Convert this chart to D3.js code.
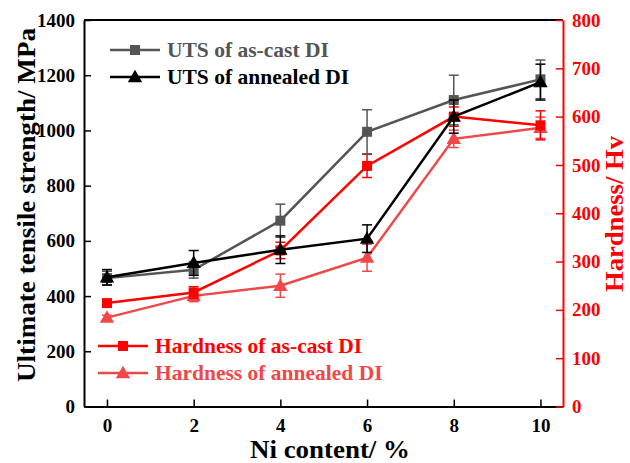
<!DOCTYPE html>
<html>
<head>
<meta charset="utf-8">
<script src="https://cdn.jsdelivr.net/npm/d3@7"></script>
<style>
  html, body { margin: 0; padding: 0; background: #fff; }
  svg { display: block; }
  svg text { font-family: "Liberation Serif", "Times New Roman", serif !important; font-weight: bold; }
</style>
</head>
<body>
<svg id="chart" width="630" height="463"></svg>
<script>
// Ni content (%)
const niContent = [0, 2, 4, 6, 8, 10];

// Ultimate tensile strength (MPa) and standard deviation
const utsCast = [465, 495, 673, 995, 1110, 1185];
const utsCastErr = [25, 30, 60, 80, 90, 70];
const utsAnnealed = [468, 520, 568, 608, 1050, 1175];
const utsAnnealedErr = [28, 45, 50, 50, 60, 65];

// Hardness (Hv) and standard deviation
const hvCast = [214, 236, 323, 498, 600, 582];
const hvCastErr = [6, 12, 17, 24, 20, 30];
const hvAnnealed = [184, 229, 250, 308, 554, 577];
const hvAnnealedErr = [5, 12, 24, 28, 18, 22];

const xTicks = [0, 2, 4, 6, 8, 10];
const utsTicks = [0, 200, 400, 600, 800, 1000, 1200, 1400];
const hvTicks = [0, 100, 200, 300, 400, 500, 600, 700, 800];

const svg = d3.select("#chart");
const m = { left: 84, right: 563, top: 20, bottom: 406.5 };

const x = d3.scaleLinear().domain([-0.53, 10.52]).range([m.left, m.right]);
const yL = d3.scaleLinear().domain([0, 1400]).range([m.bottom, m.top]);
const yR = d3.scaleLinear().domain([0, 800]).range([m.bottom, m.top]);

const RED = "#ff0000";
const LRED = "#f04848";
const GRAY = "#555555";
const FONT = "'Liberation Serif', 'Times New Roman', serif";
const fmt = d3.format("d");

// Frame: top border
svg.append("line")
  .attr("x1", m.left).attr("x2", m.right)
  .attr("y1", m.top).attr("y2", m.top)
  .attr("stroke", "#000").attr("stroke-width", 2);

function styleAxis(g, color) {
  g.attr("font-family", FONT).attr("font-weight", "bold");
  g.select(".domain").attr("stroke", color).attr("stroke-width", 2);
  g.selectAll(".tick line").attr("stroke", color).attr("stroke-width", 1.5);
  g.selectAll(".tick text").attr("font-size", 19).attr("fill", color);
}

// Bottom axis (ticks point inward)
const xAxis = svg.append("g")
  .attr("transform", `translate(0,${m.bottom})`)
  .call(d3.axisBottom(x).tickValues(xTicks).tickFormat(fmt)
    .tickSizeInner(-7).tickSizeOuter(0).tickPadding(12));
styleAxis(xAxis, "#000");

// Left axis
const yAxisL = svg.append("g")
  .attr("transform", `translate(${m.left},0)`)
  .call(d3.axisLeft(yL).tickValues(utsTicks).tickFormat(fmt)
    .tickSizeInner(-7).tickSizeOuter(0).tickPadding(9));
styleAxis(yAxisL, "#000");

// Right axis (red)
const yAxisR = svg.append("g")
  .attr("transform", `translate(${m.right},0)`)
  .call(d3.axisRight(yR).tickValues(hvTicks).tickFormat(fmt)
    .tickSizeInner(-7).tickSizeOuter(0).tickPadding(9));
styleAxis(yAxisR, RED);

// Axis titles
svg.append("text")
  .attr("transform", `translate(35,205) rotate(-90)`)
  .attr("text-anchor", "middle").attr("font-size", 24.5).attr("fill", "#000")
  .attr("textLength", 354).attr("lengthAdjust", "spacingAndGlyphs")
  .text("Ultimate tensile strength/ MPa");

svg.append("text")
  .attr("transform", `translate(623,214) rotate(-90)`)
  .attr("text-anchor", "middle").attr("font-size", 26).attr("fill", RED)
  .attr("textLength", 156).attr("lengthAdjust", "spacingAndGlyphs")
  .text("Hardness/ Hv");

svg.append("text")
  .attr("x", 330).attr("y", 458)
  .attr("text-anchor", "middle").attr("font-size", 25).attr("fill", "#000")
  .attr("textLength", 160).attr("lengthAdjust", "spacingAndGlyphs")
  .text("Ni content/ %");

// Series definitions
const series = [
  { vals: hvAnnealed, errs: hvAnnealedErr, y: yR, color: LRED, marker: "triangle" },
  { vals: hvCast, errs: hvCastErr, y: yR, color: RED, marker: "square" },
  { vals: utsCast, errs: utsCastErr, y: yL, color: GRAY, marker: "square" },
  { vals: utsAnnealed, errs: utsAnnealedErr, y: yL, color: "#000", marker: "triangle" }
];

const sym = {
  square: d3.symbol().type(d3.symbolSquare).size(100),
  triangle: d3.symbol().type(d3.symbolTriangle).size(90)
};

series.forEach(s => {
  const pts = niContent.map((n, i) => ({ n, v: s.vals[i], e: s.errs[i] }));
  const g = svg.append("g");

  // error bars
  const eb = g.selectAll("g.err").data(pts).join("g");
  eb.append("line")
    .attr("x1", d => x(d.n)).attr("x2", d => x(d.n))
    .attr("y1", d => s.y(d.v - d.e)).attr("y2", d => s.y(d.v + d.e))
    .attr("stroke", s.color).attr("stroke-width", 1.5);
  [-1, 1].forEach(k => {
    eb.append("line")
      .attr("x1", d => x(d.n) - 5).attr("x2", d => x(d.n) + 5)
      .attr("y1", d => s.y(d.v + k * d.e)).attr("y2", d => s.y(d.v + k * d.e))
      .attr("stroke", s.color).attr("stroke-width", 1.5);
  });

  // connecting line
  g.append("path")
    .datum(pts)
    .attr("fill", "none").attr("stroke", s.color).attr("stroke-width", 2.5)
    .attr("d", d3.line().x(d => x(d.n)).y(d => s.y(d.v)));

  // markers
  g.selectAll("path.mk").data(pts).join("path")
    .attr("class", "mk")
    .attr("transform", d => `translate(${x(d.n)},${s.y(d.v) + (s.marker === "triangle" ? 1 : 0)})`)
    .attr("d", sym[s.marker]())
    .attr("fill", s.color);
});

// Legends
function legendItem(x0, x1, yy, color, marker, label, tx) {
  const g = svg.append("g");
  g.append("line").attr("x1", x0).attr("x2", x1).attr("y1", yy).attr("y2", yy)
    .attr("stroke", color).attr("stroke-width", 2.5);
  g.append("path")
    .attr("transform", `translate(${(x0 + x1) / 2},${yy + (marker === "triangle" ? 1 : 0)})`)
    .attr("d", sym[marker]()).attr("fill", color);
  g.append("text").attr("x", tx).attr("y", yy + 7)
    .attr("font-size", 21.5).attr("fill", color).text(label);
}

legendItem(110, 160, 50, GRAY, "square", "UTS of as-cast DI", 167);
legendItem(110, 160, 77, "#000", "triangle", "UTS of annealed DI", 167);
legendItem(98, 148, 346, RED, "square", "Hardness of as-cast DI", 155);
legendItem(98, 148, 373, LRED, "triangle", "Hardness of annealed DI", 155);
</script>
</body>
</html>
